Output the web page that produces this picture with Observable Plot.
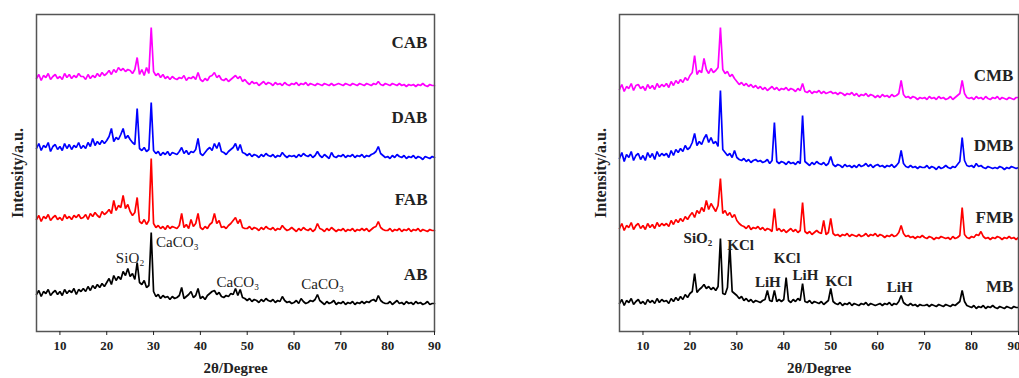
<!DOCTYPE html>
<html><head><meta charset="utf-8">
<script src="https://cdn.jsdelivr.net/npm/d3@7"></script>
<script src="https://cdn.jsdelivr.net/npm/@observablehq/plot@0.6"></script>
<style>
html,body{margin:0;padding:0;background:#fff;overflow:hidden;width:1019px;height:378px;}
#wrap{position:relative;width:1019px;height:378px;overflow:hidden;}
#left{position:absolute;left:0;top:0;width:450px;}
#right{position:absolute;left:560px;top:0;width:470px;}
svg{max-width:none !important;}
</style></head><body><div id="wrap"><div id="left"></div><div id="right"></div></div>
<script>
// 2θ grid: 5° to 90° every 0.5°
const angles = d3.range(171).map(i => 5 + i * 0.5);
const xTicks = [10, 20, 30, 40, 50, 60, 70, 80, 90];
const xTitle = "2θ/Degree";
const yTitle = "Intensity/a.u.";

// ---- Left panel (stacked, arbitrary units) ----
const AB = [
37,41,35,40,38,42,36,39,41,37, 40,36,42,38,41,39,43,37,42,40, 43,40,45,41,46,43,47,44,48,45,
49,53,47,56,51,55,52,60,56,63, 55,58,52,69,49,47,51,44,46,99, 40,35,37,33,36,34,35,32,35,33,
34,36,44,33,35,37,40,34,36,43, 33,35,32,36,38,40,41,37,39,35, 34,36,35,38,37,43,36,42,34,33,
31,33,30,32,31,29,32,30,33,31, 30,32,29,31,30,35,31,29,30,28, 29,31,28,33,30,28,29,31,30,32,
37,31,29,27,30,28,29,31,27,29, 28,30,27,29,28,30,27,29,28,30, 28,30,29,31,32,30,36,31,29,28,
28,30,27,29,31,28,29,27,30,28, 29,27,30,28,29,27,28,30,27,28, 28];
const FAB = [
112,116,110,115,113,117,111,114,116,112, 114,111,117,113,115,112,116,114,117,113, 114,117,112,118,115,119,116,114,120,117,
119,122,118,131,121,126,124,136,123,127, 120,116,119,134,110,108,112,107,111,173, 108,104,106,103,105,102,106,103,105,104,
103,106,118,104,107,103,112,105,108,118, 104,102,105,103,107,109,118,108,111,104, 105,103,106,108,111,114,108,112,104,103,
103,105,102,104,103,101,104,102,105,103, 102,104,101,103,102,106,103,101,102,104, 102,100,103,101,104,102,101,103,100,102,
108,103,102,100,103,101,104,102,100,102, 101,103,100,102,101,103,100,102,101,103, 101,103,100,102,104,105,110,104,102,101,
101,103,100,102,101,103,100,102,101,103, 100,102,101,103,100,102,101,100,102,101, 101];
const DAB = [
183,188,181,186,184,189,180,185,187,182, 185,181,188,183,187,182,186,184,189,183, 186,183,189,185,193,186,190,187,191,188,
191,195,203,190,194,192,197,203,193,196, 192,189,187,223,183,181,184,180,182,229, 181,178,180,176,179,177,180,176,179,178,
177,180,184,178,181,177,180,179,182,193, 178,176,179,182,184,181,188,183,189,180, 179,177,180,182,184,188,181,187,179,178,
176,178,175,177,176,174,177,175,178,176, 175,177,174,176,175,179,176,174,176,175, 176,174,177,175,178,176,175,177,174,176,
180,176,174,177,175,173,179,175,174,176, 175,177,174,176,175,177,174,176,175,177, 174,176,175,177,178,180,185,178,176,174,
175,173,176,174,177,175,174,176,173,175, 174,176,173,175,174,172,175,174,173,175, 174];
const CAB = [
253,257,251,256,254,258,252,255,257,253, 255,252,258,254,257,253,256,254,258,255, 255,252,257,253,256,254,258,255,259,256,
258,261,257,262,259,264,261,263,260,262, 261,258,262,274,257,262,256,264,258,304, 260,256,258,254,257,253,255,252,255,253,
252,254,253,256,251,254,253,255,252,259, 252,250,253,251,255,256,259,254,256,252, 251,253,250,252,254,256,253,255,250,252,
249,247,250,248,249,246,248,250,247,249, 248,246,249,247,248,246,249,247,246,248, 247,249,246,248,247,249,246,248,247,246,
248,247,246,248,247,246,248,246,247,248, 247,246,248,247,246,248,247,246,248,247, 246,248,247,246,248,247,250,247,246,248,
247,246,248,247,246,248,246,247,245,247, 246,247,245,247,246,248,246,245,247,246, 246];

// ---- Right panel ----
const MB = [
28,32,26,31,29,33,27,30,32,28, 30,27,32,29,31,28,33,29,32,30, 31,28,33,30,34,31,35,32,37,34,
38,40,58,39,42,44,47,43,45,42, 44,41,45,93,38,37,44,86,40,38, 36,33,35,31,33,30,32,29,31,30,
29,31,32,41,31,30,41,30,32,30, 32,54,31,29,32,30,33,31,48,30, 29,31,28,30,29,28,30,27,29,31,
43,30,28,27,29,26,28,27,29,26, 28,27,26,28,27,29,26,28,27,26, 27,28,26,28,27,29,26,28,27,30,
36,29,27,26,28,26,27,25,27,26, 26,27,25,27,26,25,27,26,25,27, 26,25,27,26,28,30,41,30,26,25,
24,26,23,25,24,26,23,25,24,26, 24,23,25,24,23,25,24,23,25,24, 24];
const FMB = [
103,108,101,106,104,109,102,106,108,103, 106,102,108,104,107,103,109,105,108,106, 108,105,111,107,112,109,113,110,115,112,
116,119,114,121,118,124,120,131,122,128, 124,120,126,153,118,121,116,119,114,117, 111,108,106,105,103,106,102,104,103,105,
102,104,101,103,102,100,123,101,103,100, 102,99,101,103,100,102,99,101,129,100, 98,100,97,99,101,99,98,111,97,99,
113,98,96,97,95,97,96,98,95,97, 96,95,97,95,96,98,95,97,96,98, 95,97,96,94,96,95,97,95,96,99,
106,98,95,96,94,95,93,95,94,96, 94,93,95,94,92,94,93,95,94,93, 94,92,95,93,94,96,124,97,94,93,
95,94,97,96,100,95,93,94,92,94, 93,95,94,92,94,93,95,93,94,92, 94];
const DMB = [
173,179,170,177,174,180,171,176,178,172, 176,171,179,174,178,172,180,175,178,176, 178,174,181,176,182,179,183,180,186,182,
184,189,198,186,190,187,193,197,189,194, 188,190,185,241,182,179,176,178,174,181, 174,172,171,173,170,172,169,171,172,170,
171,169,170,172,168,171,209,170,168,170, 169,167,170,168,169,167,170,168,216,170, 168,166,169,167,170,168,167,169,166,168,
175,167,165,167,166,164,167,165,166,164, 166,164,167,165,166,168,165,167,164,166, 167,165,166,164,166,165,167,164,166,169,
181,168,165,164,166,164,165,163,165,164, 164,166,163,165,164,162,165,163,164,166, 164,163,165,164,167,170,194,171,166,165,
166,164,168,165,166,164,163,165,164,163, 164,163,165,164,162,164,163,165,164,163, 164];
const CMB = [
242,247,240,245,243,248,241,246,247,243, 245,241,247,243,246,242,248,244,247,245, 248,244,250,246,251,248,252,249,254,251,
256,259,276,257,261,259,273,262,258,263, 259,261,264,304,262,258,260,255,257,253, 250,247,249,246,248,245,247,244,246,243,
245,242,244,241,243,245,242,244,241,243, 242,244,241,243,242,240,243,241,248,240, 239,241,238,240,239,241,238,240,238,239,
240,238,239,237,239,238,236,238,237,239, 236,238,235,237,236,238,235,237,236,234, 236,234,237,235,236,234,237,235,236,238,
251,237,234,235,233,235,234,232,234,233, 234,232,235,233,234,232,235,233,234,232, 233,235,232,234,236,238,251,238,234,233,
234,232,235,233,234,232,235,233,232,234, 233,235,232,234,233,232,234,233,232,234, 234];

const leftNames = ["AB", "FAB", "DAB", "CAB"];
const leftLabelY = [57, 132, 214, 289];
const rightNames = ["MB", "FMB", "DMB", "CMB"];
const rightLabelY = [45, 114, 186, 256];
const colors = ["#000000", "#ff0000", "#0000ff", "#ff00ff"];

const leftAnnText = ["SiO₂", "CaCO₃", "CaCO₃", "CaCO₃"];
const leftAnnX = [25.0, 35.1, 48.0, 66.1];
const leftAnnY = [73, 89, 49, 47];
const rightAnnText = ["SiO₂", "KCl", "LiH", "KCl", "LiH", "KCl", "LiH"];
const rightAnnX = [21.7, 30.8, 36.6, 40.7, 44.6, 51.7, 64.7];
const rightAnnY = [93, 86, 49, 73, 56, 50, 44];

const FONT = "'Liberation Serif', 'Times New Roman', serif";

function panel({series, names, labelY, labelEnd, annText, annX, annY, annWeight, width, marginLeft, marginRight, lastTickEnd}) {
  const labels = names.map((n, i) => ({text: n, x: labelEnd, y: labelY[i]}));
  const anns = annText.map((t, i) => ({text: t, x: annX[i], y: annY[i]}));
  const mainTicks = lastTickEnd ? xTicks.slice(0, -1) : xTicks;
  const axes = [
    Plot.axisX({ticks: xTicks, tickSize: 4, tickFormat: () => "", label: null}),
    Plot.axisX({ticks: mainTicks, tickSize: 0, tickPadding: 9, label: null, tickFormat: d => String(d)})
  ];
  if (lastTickEnd) axes.push(Plot.axisX({ticks: xTicks.slice(-1), tickSize: 0, tickPadding: 9, label: null, textAnchor: "end", dx: 2, tickFormat: d => String(d)}));
  return Plot.plot({
    width, height: 378, marginLeft, marginRight, marginTop: 14, marginBottom: 47,
    x: {domain: [5, 90]},
    y: {domain: [0, 317], axis: null},
    style: {fontFamily: FONT, fontSize: "13px", fontWeight: "bold", color: "#222", background: "transparent", overflow: "visible"},
    marks: [
      ...series.map((s, k) => Plot.line(s, {x: (d, i) => angles[i], y: d => d, stroke: colors[k], strokeWidth: 1.7, strokeLinejoin: "miter"})),
      Plot.frame({stroke: "#555", strokeWidth: 1.5}),
      ...axes,
      Plot.text([yTitle], {text: d => d, frameAnchor: "left", dx: -19, rotate: -90, textAnchor: "middle", lineAnchor: "middle", fontSize: 16, fontWeight: "bold", fill: "#222"}),
      Plot.text([xTitle], {text: d => d, frameAnchor: "bottom", dy: 37, textAnchor: "middle", lineAnchor: "middle", fontSize: 15, fontWeight: "bold", fill: "#222"}),
      Plot.text(labels, {x: "x", y: "y", text: "text", textAnchor: "end", fontSize: 17, fontWeight: "bold", fill: "#222"}),
      Plot.text(anns, {x: "x", y: "y", text: "text", fontSize: 15, fontWeight: annWeight, fill: "#222"})
    ]
  });
}

document.getElementById("left").append(panel({
  series: [AB, FAB, DAB, CAB], names: leftNames, labelY: leftLabelY, labelEnd: 88.5,
  annText: leftAnnText, annX: leftAnnX, annY: leftAnnY, annWeight: "normal",
  width: 450, marginLeft: 36, marginRight: 16, lastTickEnd: false
}));
document.getElementById("right").append(panel({
  series: [MB, FMB, DMB, CMB], names: rightNames, labelY: rightLabelY, labelEnd: 88.9,
  annText: rightAnnText, annX: rightAnnX, annY: rightAnnY, annWeight: "bold",
  width: 470, marginLeft: 59, marginRight: 12, lastTickEnd: true
}));
</script>
</body></html>
